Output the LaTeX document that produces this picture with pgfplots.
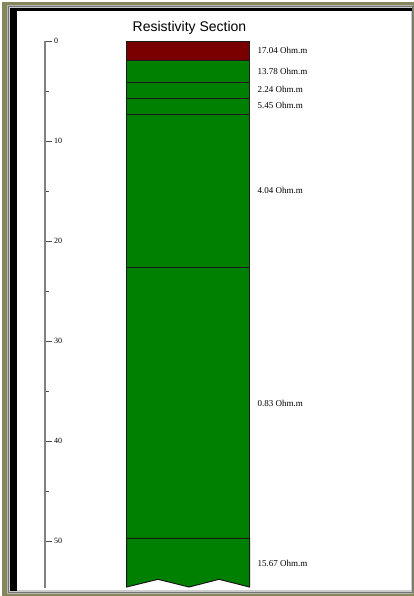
\documentclass[border=0pt]{standalone}
\usepackage{fontspec}
\setmainfont{Liberation Serif}
\newfontfamily\titlefont{Liberation Sans}
\usepackage{pgfplots}
\pgfplotsset{compat=1.18}
\definecolor{frameolive}{RGB}{134,134,90}
\definecolor{layerred}{RGB}{122,0,0}
\definecolor{layergreen}{RGB}{0,128,0}
\pgfplotstableread{
x y
126.5 0
249.5 0
249.5 1.93
126.5 1.93
}\layerA
\begin{document}
\begin{tikzpicture}
\begin{scope}[x=1pt,y=-1pt]
\fill[white] (0,0) rectangle (414,596);
\fill[frameolive] (2,2.5) rectangle (414,596);
\fill[gray!55] (6.5,5) rectangle (413,594);
\fill[gray!90!black] (8,6.5) rectangle (412.5,592.5);
\fill[gray!40] (9,7.5) rectangle (412,592);
\fill[black] (10,8.5) rectangle (412,11);
\fill[black] (10,8.5) rectangle (16.5,591);
\fill[white] (16.5,11) rectangle (411,589.5);
\node[anchor=base, font=\titlefont\fontsize{14}{16}\selectfont] at (189.5,32) {Resistivity Section};
\end{scope}
\begin{axis}[
  at={(45pt,-41pt)}, anchor=north west,
  scale only axis, width=360pt, height=547pt,
  xmin=45, xmax=405, ymin=0, ymax=54.7,
  y dir=reverse,
  axis x line=none, axis y line*=left,
  clip=false,
  ytick={0,10,20,30,40,50},
  minor ytick={5,15,25,35,45},
  tick align=inside,
  major tick length=7pt, minor tick length=3.5pt,
  axis line style={gray, line width=1.3pt},
  major tick style={black!70, line width=0.8pt},
  minor tick style={black!70, line width=0.8pt},
  /pgf/number format/assume math mode=true,
  yticklabel style={anchor=west, xshift=9pt, inner sep=0pt, font=\fontsize{8}{9}\selectfont, text=black},
]
\addplot[fill=layerred, draw=black!90, line width=1pt] table {\layerA} -- cycle;
\addplot[fill=layergreen, draw=black!90, line width=1pt] coordinates {(126.5,1.93) (249.5,1.93) (249.5,4.1) (126.5,4.1)} -- cycle;
\addplot[fill=layergreen, draw=black!90, line width=1pt] coordinates {(126.5,4.1) (249.5,4.1) (249.5,5.73) (126.5,5.73)} -- cycle;
\addplot[fill=layergreen, draw=black!90, line width=1pt] coordinates {(126.5,5.73) (249.5,5.73) (249.5,7.3) (126.5,7.3)} -- cycle;
\addplot[fill=layergreen, draw=black!90, line width=1pt] coordinates {(126.5,7.3) (249.5,7.3) (249.5,22.6) (126.5,22.6)} -- cycle;
\addplot[fill=layergreen, draw=black!90, line width=1pt] coordinates {(126.5,22.6) (249.5,22.6) (249.5,49.73) (126.5,49.73)} -- cycle;
\addplot[fill=layergreen, draw=black!90, line width=1pt] coordinates {(126.5,49.73) (249.5,49.73) (249.5,54.6) (219,53.83) (189,54.6) (158,53.83) (126.5,54.6)} -- cycle;
\begin{scope}[every node/.style={anchor=west, inner sep=0pt, font=\fontsize{9}{11}\selectfont}]
\node at (axis cs:257.5,0.95) {17.04 Ohm.m};
\node at (axis cs:257.5,3.0) {13.78 Ohm.m};
\node at (axis cs:257.5,4.85) {2.24 Ohm.m};
\node at (axis cs:257.5,6.45) {5.45 Ohm.m};
\node at (axis cs:257.5,14.9) {4.04 Ohm.m};
\node at (axis cs:257.5,36.2) {0.83 Ohm.m};
\node at (axis cs:257.5,52.2) {15.67 Ohm.m};
\end{scope}
\end{axis}
\end{tikzpicture}
\end{document}
